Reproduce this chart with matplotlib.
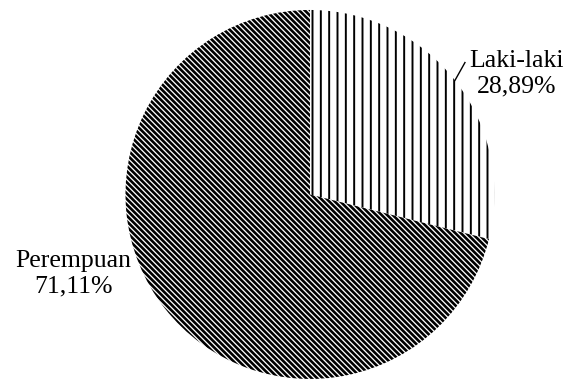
import numpy as np
import matplotlib
matplotlib.use("Agg")
import matplotlib.pyplot as plt

# data
labels = ["Laki-laki", "Perempuan"]
percents = [28.89, 71.11]
hatches = ["||", "\\" * 6]
hatch_widths = [1.4, 1.9]

plt.rcParams["font.family"] = ["Liberation Serif", "DejaVu Serif"]
plt.rcParams["hatch.linewidth"] = 1.4
plt.rcParams["hatch.color"] = "black"

fig = plt.figure(figsize=(5.67, 3.81), dpi=100)
ax = fig.add_axes([0, 0, 1, 1])

wedges, _ = ax.pie(percents, startangle=90, counterclock=False,
                   colors=["white", "white"], wedgeprops=dict(linewidth=0))
for w, h, hw in zip(wedges, hatches, hatch_widths):
    w.set_hatch(h)
    w.set_edgecolor("black")
    w.set_linewidth(0)
    if hasattr(w, "set_hatch_linewidth"):
        w.set_hatch_linewidth(hw)

ax.set_xlim(-1.680, 1.393)
ax.set_ylim(-1.011, 1.054)
ax.set_axis_off()

def fmt(name, p):
    return f"{name}\n{p:.2f}%".replace(".", ",")

# Laki-laki label with leader line
a = np.deg2rad(38.2)
ax.plot([np.cos(a), 0.84], [np.sin(a), 0.715], color="black", lw=1.0)
ax.text(1.122, 0.653, fmt(labels[0], percents[0]), ha="center", va="center",
        fontsize=18.5, linespacing=1.2)

# Perempuan label
ax.text(-1.282, -0.431, fmt(labels[1], percents[1]), ha="center", va="center",
        fontsize=18.5, linespacing=1.2)

fig.savefig("out.png", dpi=100, facecolor="white")
